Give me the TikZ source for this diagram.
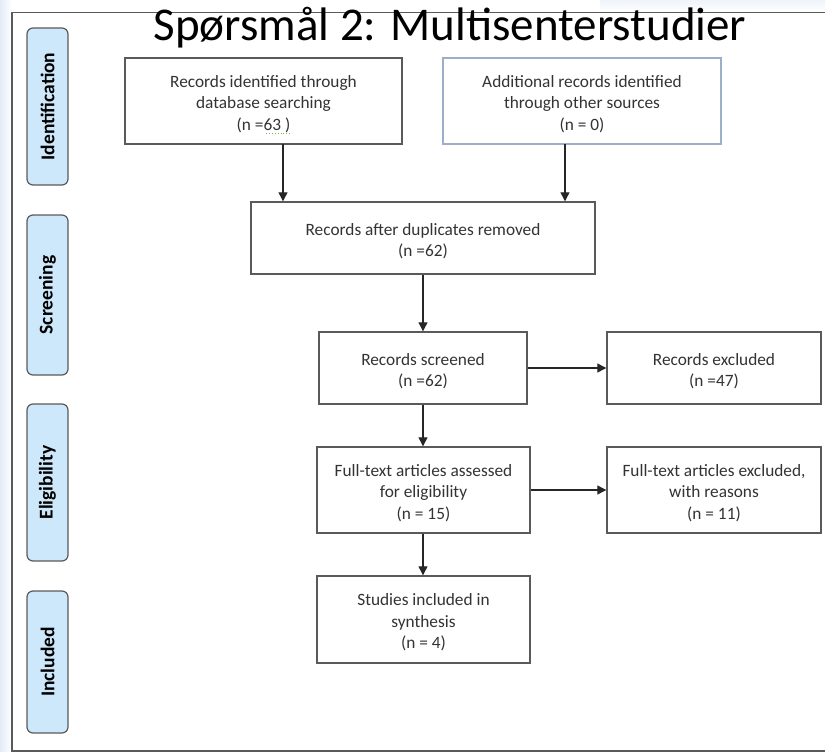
\documentclass[tikz,border=0pt]{standalone}
\usepackage{fontspec}
\setmainfont{Carlito}
\usetikzlibrary{arrows.meta,calc}
\definecolor{boxgray}{HTML}{5A5A5A}
\definecolor{txtgray}{HTML}{333333}
\definecolor{lblue}{HTML}{CDE8FA}
\definecolor{bluegray}{HTML}{9DAECB}
\definecolor{edgeblue}{HTML}{E4ECF6}
\definecolor{spellgreen}{HTML}{6FBF4A}
\newcommand\mystrut{\rule{0pt}{18pt}}
\begin{document}
\begin{tikzpicture}[x=1pt,y=-1pt,
  box/.style={draw=boxgray,line width=1.4pt,fill=white,inner sep=0pt,align=center,
    text=txtgray,font=\fontsize{17.3}{21.5}\selectfont},
  phase/.style={draw=boxgray,line width=1.2pt,fill=lblue,rounded corners=6pt,inner sep=0pt,
    minimum height=41pt,font=\fontsize{19.5}{22}\selectfont\bfseries,rotate=90},
  arr/.style={line width=1.2pt,draw=black!85,-{Triangle[length=9pt,width=9pt]}}]
\useasboundingbox (0,0) rectangle (825,752);
% slide background hints
\shade[left color=edgeblue,right color=white] (0,0) rectangle (12,752);
\shade[top color=edgeblue!60,bottom color=white] (600,0) rectangle (825,12);
% frame
\draw[boxgray,line width=1.4pt] (825,12.5) -- (12,12.5) -- (12,751) -- (825,751);
% title
\node[font=\fontsize{47}{56}\selectfont,anchor=base,inner sep=0pt] (title) at (450,40.5) {Spørsmål 2: Multisenterstudier};
% phase labels
\node[phase,minimum width=157pt] (p1) at (47.5,106.5) {Identification};
\node[phase,minimum width=160pt] (p2) at (47.5,295) {Screening};
\node[phase,minimum width=157pt] (p3) at (47.5,482.5) {Eligibility};
\node[phase,minimum width=142pt] (p4) at (47.5,662) {Included};
% boxes
\node[box,minimum width=277pt,minimum height=86pt] (b1) at (263.5,101) {\mystrut Records identified through\\database searching\\(n =63 )};
\node[box,draw=bluegray,minimum width=278pt,minimum height=86pt] (b2) at (582,101) {\mystrut Additional records identified\\through other sources\\(n = 0)};
\node[box,minimum width=344pt,minimum height=72pt] (b3) at (423,238) {\mystrut Records after duplicates removed\\(n =62)};
\node[box,minimum width=208pt,minimum height=72pt] (b4) at (423,368) {\mystrut Records screened\\(n =62)};
\node[box,minimum width=214pt,minimum height=72pt] (b5) at (714,368) {\mystrut Records excluded\\(n =47)};
\node[box,minimum width=213pt,minimum height=86pt] (b6) at (423.5,490) {\mystrut Full-text articles assessed\\for eligibility\\(n = 15)};
\node[box,minimum width=214pt,minimum height=86pt] (b7) at (714,490) {\mystrut Full-text articles excluded,\\with reasons\\(n = 11)};
\node[box,minimum width=213pt,minimum height=87pt] (b8) at (423.5,619.5) {\mystrut Studies included in\\synthesis\\(n = 4)};
% spell-check underline
\draw[spellgreen,line width=0.9pt,dotted] (266,133.5) -- (291,133.5);
% connectors
\coordinate (a1) at (283,144);
\coordinate (a2) at (565,144);
\draw[arr] (a1) -- (a1 |- b3.north);
\draw[arr] (a2) -- (a2 |- b3.north);
\draw[arr] (b3.south -| b4.north) -- (b4.north);
\draw[arr] (b4.east) -- (b5.west);
\draw[arr] (b4.south) -- (b4.south |- b6.north);
\draw[arr] (b6.east) -- (b6.east -| b7.west);
\draw[arr] (b4.south |- b6.south) -- (b4.south |- b8.north);
\end{tikzpicture}
\end{document}
